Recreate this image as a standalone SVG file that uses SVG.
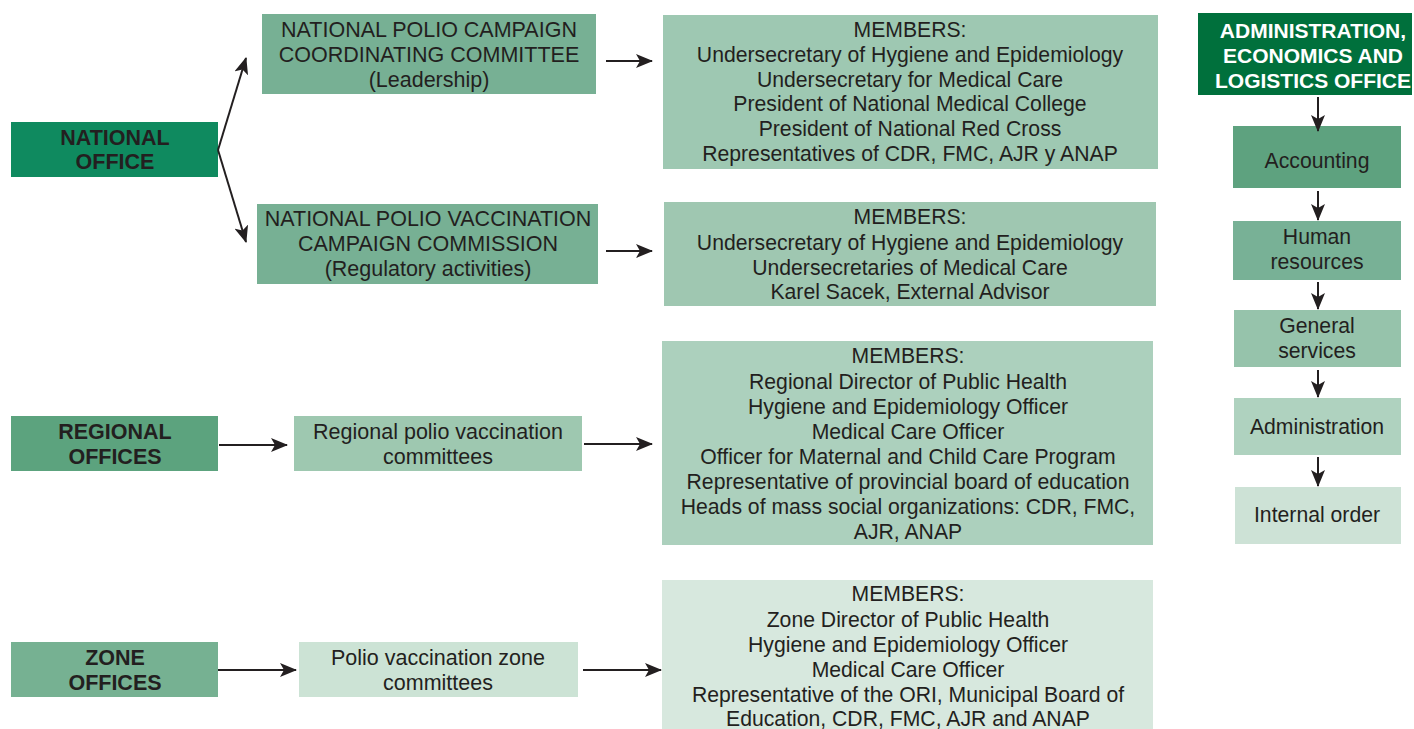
<svg xmlns="http://www.w3.org/2000/svg" width="1414" height="729" viewBox="0 0 1414 729">
<defs>
<marker id="ah" markerWidth="17" markerHeight="14" refX="16" refY="7" orient="auto" markerUnits="userSpaceOnUse">
<path d="M0,0 L17,7 L0,14 L4,7 Z" fill="#231f20"/>
</marker>
</defs>
<style>
text{font-family:"Liberation Sans",Arial,sans-serif;fill:#231f20;text-anchor:middle;}
.t{font-size:21.2px;}
.n{font-size:21.5px;}
.b{font-size:21.5px;font-weight:bold;}
.w{font-size:21px;font-weight:bold;fill:#ffffff;}
.c{stroke:#231f20;stroke-width:2;fill:none;marker-end:url(#ah);}
</style>
<rect width="1414" height="729" fill="#ffffff"/>
<g id="national-office"><rect x="11" y="122" width="207" height="55" fill="#0f8a5f"/><text class="b" x="115" y="145">NATIONAL</text><text class="b" x="115" y="169">OFFICE</text></g>
<g id="coord-committee"><rect x="262" y="14" width="334" height="80" fill="#77b094"/><text class="n" x="429" y="37">NATIONAL POLIO CAMPAIGN</text><text class="n" x="429" y="62">COORDINATING COMMITTEE</text><text class="n" x="429" y="87">(Leadership)</text></g>
<g id="vacc-commission"><rect x="257" y="204" width="341" height="80" fill="#77b094"/><text class="n" x="428" y="226">NATIONAL POLIO VACCINATION</text><text class="n" x="428" y="251">CAMPAIGN COMMISSION</text><text class="n" x="428" y="276">(Regulatory activities)</text></g>
<g id="members-1"><rect x="663" y="15" width="495" height="154" fill="#9ec8b2"/><text class="t" x="910" y="37">MEMBERS:</text><text class="t" x="910" y="62">Undersecretary of Hygiene and Epidemiology</text><text class="t" x="910" y="87">Undersecretary for Medical Care</text><text class="t" x="910" y="111">President of National Medical College</text><text class="t" x="910" y="136">President of National Red Cross</text><text class="t" x="910" y="161">Representatives of CDR, FMC, AJR y ANAP</text></g>
<g id="members-2"><rect x="664" y="202" width="492" height="104" fill="#9fc7b1"/><text class="t" x="910" y="224">MEMBERS:</text><text class="t" x="910" y="250">Undersecretary of Hygiene and Epidemiology</text><text class="t" x="910" y="275">Undersecretaries of Medical Care</text><text class="t" x="910" y="299">Karel Sacek, External Advisor</text></g>
<g id="regional-offices"><rect x="11" y="416" width="207" height="55" fill="#5ca37e"/><text class="b" x="115" y="439">REGIONAL</text><text class="b" x="115" y="464">OFFICES</text></g>
<g id="regional-committees"><rect x="294" y="416" width="288" height="55" fill="#9ec8b0"/><text class="n" x="438" y="439">Regional polio vaccination</text><text class="n" x="438" y="464">committees</text></g>
<g id="members-3"><rect x="662" y="341" width="491" height="204" fill="#acd0bd"/><text class="t" x="908" y="363">MEMBERS:</text><text class="t" x="908" y="389">Regional Director of Public Health</text><text class="t" x="908" y="414">Hygiene and Epidemiology Officer</text><text class="t" x="908" y="439">Medical Care Officer</text><text class="t" x="908" y="464">Officer for Maternal and Child Care Program</text><text class="t" x="908" y="489">Representative of provincial board of education</text><text class="t" x="908" y="514">Heads of mass social organizations: CDR, FMC,</text><text class="t" x="908" y="539">AJR, ANAP</text></g>
<g id="zone-offices"><rect x="11" y="642" width="207" height="55" fill="#76b192"/><text class="b" x="115" y="665">ZONE</text><text class="b" x="115" y="690">OFFICES</text></g>
<g id="zone-committees"><rect x="299" y="642" width="279" height="55" fill="#cce3d5"/><text class="n" x="438" y="665">Polio vaccination zone</text><text class="n" x="438" y="690">committees</text></g>
<g id="members-4"><rect x="662" y="580" width="491" height="149" fill="#d7e8de"/><text class="t" x="908" y="601">MEMBERS:</text><text class="t" x="908" y="627">Zone Director of Public Health</text><text class="t" x="908" y="652">Hygiene and Epidemiology Officer</text><text class="t" x="908" y="677">Medical Care Officer</text><text class="t" x="908" y="702">Representative of the ORI, Municipal Board of</text><text class="t" x="908" y="726">Education, CDR, FMC, AJR and ANAP</text></g>
<g id="admin-office"><rect x="1198" y="13" width="214" height="82" fill="#00703c"/><text class="w" x="1313" y="38">ADMINISTRATION,</text><text class="w" x="1313" y="63">ECONOMICS AND</text><text class="w" x="1313" y="88">LOGISTICS OFFICE</text></g>
<g id="accounting"><rect x="1233" y="126" width="168" height="62" fill="#5ea27f"/><text class="t" x="1317" y="168">Accounting</text></g>
<g id="human-resources"><rect x="1233" y="221" width="168" height="59" fill="#78b196"/><text class="t" x="1317" y="244">Human</text><text class="t" x="1317" y="269">resources</text></g>
<g id="general-services"><rect x="1234" y="310" width="167" height="57" fill="#96c3ab"/><text class="t" x="1317" y="333">General</text><text class="t" x="1317" y="358">services</text></g>
<g id="administration"><rect x="1234" y="398" width="167" height="57" fill="#afd2bf"/><text class="t" x="1317" y="434">Administration</text></g>
<g id="internal-order"><rect x="1235" y="487" width="166" height="57" fill="#cde2d6"/><text class="t" x="1317" y="522">Internal order</text></g>
<g id="connectors">
<line class="c" x1="218" y1="150" x2="246" y2="58"/>
<line class="c" x1="218" y1="150" x2="246" y2="242"/>
<line class="c" x1="606" y1="61" x2="652" y2="61"/>
<line class="c" x1="606" y1="251" x2="652" y2="251"/>
<line class="c" x1="219" y1="445" x2="287" y2="445"/>
<line class="c" x1="584" y1="444" x2="652" y2="444"/>
<line class="c" x1="218" y1="670" x2="296" y2="670"/>
<line class="c" x1="583" y1="670" x2="661" y2="670"/>
<line class="c" x1="1318" y1="97" x2="1318" y2="131"/>
<line class="c" x1="1318" y1="191" x2="1318" y2="220"/>
<line class="c" x1="1318" y1="282" x2="1318" y2="309"/>
<line class="c" x1="1318" y1="370" x2="1318" y2="397"/>
<line class="c" x1="1318" y1="457" x2="1318" y2="486"/>
</g>
</svg>
